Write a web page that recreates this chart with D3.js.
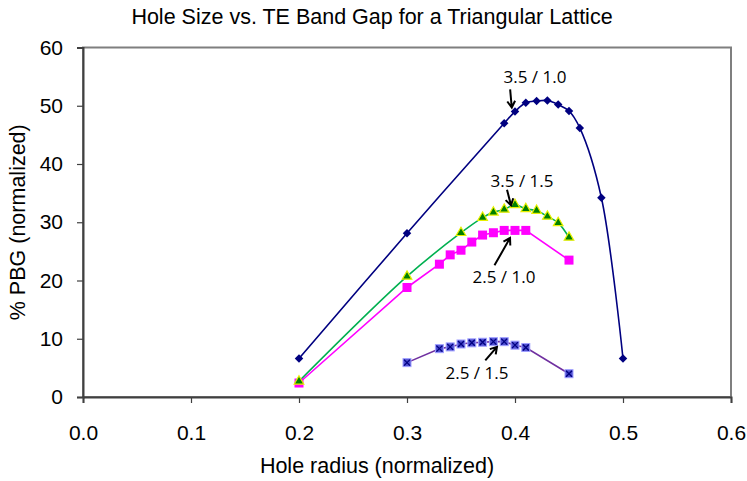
<!DOCTYPE html>
<html>
<head>
<meta charset="utf-8">
<script src="https://cdn.jsdelivr.net/npm/d3@7"></script>
<style>
  body { margin: 0; background: #fff; }
  svg { display: block; }
</style>
</head>
<body>
<script>
// data
var r_big_10 = [0.20, 0.30, 0.39, 0.40, 0.41, 0.42, 0.43, 0.44, 0.45, 0.46, 0.48, 0.50];
var gap_big_10 = [6.6, 28.1, 47.0, 49.0, 50.5, 50.8, 50.9, 50.2, 49.1, 46.2, 34.2, 6.6];

var r_big_15 = [0.20, 0.30, 0.35, 0.37, 0.38, 0.39, 0.40, 0.41, 0.42, 0.43, 0.44, 0.45];
var gap_big_15 = [2.7, 20.7, 28.2, 30.8, 31.7, 32.2, 33.0, 32.3, 32.0, 31.0, 29.9, 27.4];

var r_small_10 = [0.20, 0.30, 0.33, 0.34, 0.35, 0.36, 0.37, 0.38, 0.39, 0.40, 0.41, 0.45];
var gap_small_10 = [2.4, 18.8, 22.8, 24.4, 25.2, 26.6, 27.8, 28.2, 28.6, 28.6, 28.6, 23.5];

var r_small_15 = [0.30, 0.33, 0.34, 0.35, 0.36, 0.37, 0.38, 0.39, 0.40, 0.41, 0.45];
var gap_small_15 = [5.9, 8.3, 8.6, 9.1, 9.3, 9.4, 9.5, 9.5, 8.9, 8.5, 4.0];

var x_ticks = [0, 0.1, 0.2, 0.3, 0.4, 0.5, 0.6];
var y_ticks = [0, 10, 20, 30, 40, 50, 60];

// label text, its centre, arrow tail and arrow head (data units)
var note_text = ["3.5 / 1.0", "3.5 / 1.5", "2.5 / 1.0", "2.5 / 1.5"];
var note_pos = [[0.4185, 54.9], [0.4065, 37.0], [0.3898, 20.6], [0.3648, 4.1]];
var note_from = [[0.3955, 52.8], [0.3926, 35.6], [0.3810, 22.6], [0.3725, 6.3]];
var note_to = [[0.3970, 49.7], [0.3963, 32.9], [0.3954, 27.3], [0.3833, 8.6]];

var W = 747, H = 481;
var pl = 83, pr = 731, pt = 47.5, pb = 397;
var axisFont = "'Liberation Sans', Arial, sans-serif";

var svg = d3.select("body").append("svg")
	.attr("width", W)
	.attr("height", H);

var x = d3.scaleLinear().domain([0, 0.6]).range([pl, pr]);
var y = d3.scaleLinear().domain([0, 60]).range([pb, pt]);

// frame
svg.append("rect")
	.attr("x", pl).attr("y", pt)
	.attr("width", pr - pl).attr("height", pb - pt)
	.style("fill", "none")
	.style("stroke", "#7f7f7f")
	.style("stroke-width", 2);

var xAxis = svg.append("g")
	.attr("transform", "translate(0," + pb + ")")
	.call(d3.axisBottom(x).tickValues(x_ticks).tickFormat(d3.format(".1f")).tickSize(6).tickPadding(22));
var yAxis = svg.append("g")
	.attr("transform", "translate(" + pl + ",0)")
	.call(d3.axisLeft(y).tickValues(y_ticks).tickFormat(d3.format("d")).tickSize(6).tickPadding(14));

[xAxis, yAxis].forEach(function(a){
	a.select(".domain").style("stroke", "#404040").style("stroke-width", 2);
	a.selectAll(".tick line").style("stroke", "#404040").style("stroke-width", 1.2);
	a.selectAll(".tick text")
		.style("font-family", axisFont)
		.style("font-size", "21px")
		.style("fill", "#000");
});

svg.append("text")
	.attr("x", 372).attr("y", 24)
	.attr("text-anchor", "middle")
	.style("font-family", axisFont)
	.style("font-size", "21.5px")
	.text("Hole Size vs. TE Band Gap for a Triangular Lattice");

svg.append("text")
	.attr("x", (pl + pr) / 2 - 30).attr("y", 473)
	.attr("text-anchor", "middle")
	.style("font-family", axisFont)
	.style("font-size", "21.5px")
	.text("Hole radius (normalized)");

svg.append("text")
	.attr("transform", "translate(25," + ((pt + pb) / 2) + ") rotate(-90)")
	.attr("text-anchor", "middle")
	.style("font-family", axisFont)
	.style("font-size", "21.5px")
	.text("% PBG (normalized)");

function pairs(xs, ys){
	return xs.map(function(v, i){ return [v, ys[i]]; });
}

function draw_line(pts, colour, curve){
	var line = d3.line()
		.x(function(d){ return x(d[0]); })
		.y(function(d){ return y(d[1]); })
		.curve(curve);
	svg.append("path")
		.datum(pts)
		.attr("d", line)
		.style("fill", "none")
		.style("stroke", colour)
		.style("stroke-width", 1.6);
}

var s1 = pairs(r_big_10, gap_big_10);
var s2 = pairs(r_big_15, gap_big_15);
var s3 = pairs(r_small_10, gap_small_10);
var s4 = pairs(r_small_15, gap_small_15);

draw_line(s4, "#7030a0", d3.curveLinear);
draw_line(s3, "#ff00ff", d3.curveLinear);
draw_line(s2, "#00b050", d3.curveCatmullRom.alpha(0.5));
draw_line(s1, "#000080", d3.curveCatmullRom.alpha(0.5));

// markers
svg.append("g").selectAll("rect")
	.data(s4).enter().append("rect")
	.attr("x", function(d){ return x(d[0]) - 4; })
	.attr("y", function(d){ return y(d[1]) - 4; })
	.attr("width", 8).attr("height", 8)
	.style("fill", "#4f4fd0")
	.style("stroke", "#9f9fff")
	.style("stroke-width", 1);
svg.append("g").selectAll("path")
	.data(s4).enter().append("path")
	.attr("d", function(d){
		var cx = x(d[0]), cy = y(d[1]);
		return "M" + (cx - 3) + "," + (cy - 3) + "L" + (cx + 3) + "," + (cy + 3) +
			"M" + (cx - 3) + "," + (cy + 3) + "L" + (cx + 3) + "," + (cy - 3);
	})
	.style("stroke", "#000080")
	.style("stroke-width", 1.3);

svg.append("g").selectAll("rect")
	.data(s3).enter().append("rect")
	.attr("x", function(d){ return x(d[0]) - 4.5; })
	.attr("y", function(d){ return y(d[1]) - 4.5; })
	.attr("width", 9).attr("height", 9)
	.style("fill", "#ff00ff");

svg.append("g").selectAll("path")
	.data(s2).enter().append("path")
	.attr("transform", function(d){ return "translate(" + x(d[0]) + "," + y(d[1]) + ")"; })
	.attr("d", d3.symbol().type(d3.symbolTriangle).size(40))
	.style("fill", "#008000")
	.style("stroke", "#e8f000")
	.style("stroke-width", 1.2);

svg.append("g").selectAll("path")
	.data(s1).enter().append("path")
	.attr("transform", function(d){ return "translate(" + x(d[0]) + "," + y(d[1]) + ") rotate(45)"; })
	.attr("d", d3.symbol().type(d3.symbolSquare).size(36))
	.style("fill", "#000080");

// labels with arrows
var notes = svg.append("g");
note_text.forEach(function(t, i){
	notes.append("text")
		.attr("x", x(note_pos[i][0]))
		.attr("y", y(note_pos[i][1]))
		.attr("dy", "0.35em")
		.attr("text-anchor", "middle")
		.style("font-family", "'Open Sans', sans-serif")
		.style("font-size", "17px")
		.text(t);
	var x0 = x(note_from[i][0]), y0 = y(note_from[i][1]);
	var x1 = x(note_to[i][0]), y1 = y(note_to[i][1]);
	var ang = Math.atan2(y1 - y0, x1 - x0);
	var hl = 7.5, ha = 0.55;
	var ax = x1 - hl * Math.cos(ang - ha), ay = y1 - hl * Math.sin(ang - ha);
	var bx = x1 - hl * Math.cos(ang + ha), by = y1 - hl * Math.sin(ang + ha);
	notes.append("path")
		.attr("d", "M" + x0 + "," + y0 + "L" + x1 + "," + y1 +
			"M" + ax + "," + ay + "L" + x1 + "," + y1 + "L" + bx + "," + by)
		.style("fill", "none")
		.style("stroke", "#000")
		.style("stroke-width", 2);
});
</script>
</body>
</html>
